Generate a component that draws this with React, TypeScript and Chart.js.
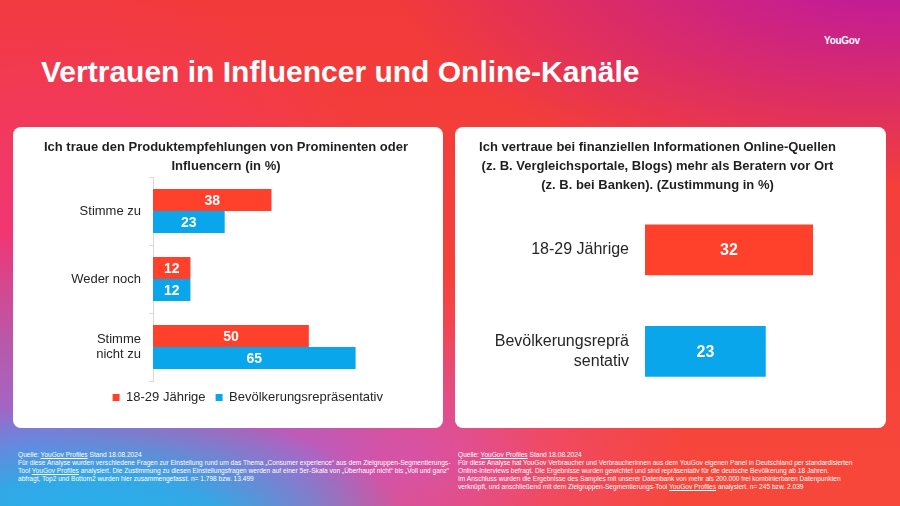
import React, { useEffect, useRef } from 'react';
import { Chart, registerables } from 'chart.js';

Chart.register(...registerables);

const FONT = '"Liberation Sans", Arial, Helvetica, sans-serif';

// ---- data ----
const leftCategories = [['Stimme zu'], ['Weder noch'], ['Stimme', 'nicht zu']];
const seriesNames = ['18-29 Jährige', 'Bevölkerungsrepräsentativ'];
const youngValues = [38, 12, 50];
const populationValues = [23, 12, 65];
const rightCategories = [['18-29 Jährige'], ['Bevölkerungsreprä', 'sentativ']];
const rightValues = [32, 23];
const seriesColors = ['#ff412c', '#0aa6ec'];
const leftAxisMax = 77;
const rightAxisMax = 40;

const pageTitle = 'Vertrauen in Influencer und Online-Kanäle';
const leftTitle = ['Ich traue den Produktempfehlungen von Prominenten oder', 'Influencern (in %)'];
const rightTitle = [
  'Ich vertraue bei finanziellen Informationen Online-Quellen',
  '(z. B. Vergleichsportale, Blogs) mehr als Beratern vor Ort',
  '(z. B. bei Banken). (Zustimmung in %)',
];

const valueLabels = (size: number) => ({
  id: 'valueLabels',
  afterDatasetsDraw(chart: any) {
    const ctx = chart.ctx;
    ctx.save();
    ctx.font = `bold ${size}px ${FONT}`;
    ctx.fillStyle = '#ffffff';
    ctx.textAlign = 'center';
    ctx.textBaseline = 'middle';
    chart.data.datasets.forEach((ds: any, i: number) => {
      const meta = chart.getDatasetMeta(i);
      meta.data.forEach((bar: any, j: number) => {
        const p = bar.getProps(['x', 'y', 'base'], true);
        ctx.fillText(String(ds.data[j]), (p.x + p.base) / 2, p.y + 1);
      });
    });
    ctx.restore();
  },
});

function useChart(ref: React.RefObject<HTMLCanvasElement>, makeConfig: () => any) {
  useEffect(() => {
    if (!ref.current) return;
    const chart = new Chart(ref.current, makeConfig());
    return () => chart.destroy();
  }, []);
}

function LeftChart() {
  const ref = useRef<HTMLCanvasElement>(null);
  useChart(ref, () => ({
    type: 'bar',
    data: {
      labels: leftCategories,
      datasets: [
        { label: seriesNames[0], data: youngValues, backgroundColor: seriesColors[0], borderWidth: 0, categoryPercentage: 0.65, barPercentage: 1 },
        { label: seriesNames[1], data: populationValues, backgroundColor: seriesColors[1], borderWidth: 0, categoryPercentage: 0.65, barPercentage: 1 },
      ],
    },
    options: {
      indexAxis: 'y',
      animation: false,
      responsive: false,
      maintainAspectRatio: false,
      layout: { padding: { left: 0, right: 50, top: 50, bottom: 14 } },
      plugins: {
        title: { display: false },
        tooltip: { enabled: false },
        legend: {
          position: 'bottom',
          align: 'end',
          labels: { boxWidth: 7, boxHeight: 7, padding: 10, color: '#262626', font: { family: FONT, size: 13 } },
        },
      },
      scales: {
        x: { display: false, min: 0, max: leftAxisMax },
        y: {
          grid: { display: true, drawOnChartArea: false, drawTicks: true, tickLength: 4, color: '#d9d9d9', offset: true },
          border: { display: true, color: '#d9d9d9' },
          ticks: { padding: 8, color: '#262626', font: { family: FONT, size: 13, lineHeight: 1.15 } },
          afterFit: (s: any) => { s.width = 140; },
        },
      },
    },
    plugins: [valueLabels(14)],
  }));
  return <canvas ref={ref} width={430} height={301} style={{ position: 'absolute', left: 0, top: 0, width: 430, height: 301 }} />;
}

function RightChart() {
  const ref = useRef<HTMLCanvasElement>(null);
  useChart(ref, () => ({
    type: 'bar',
    data: {
      labels: rightCategories,
      datasets: [
        { label: 'Zustimmung', data: rightValues, backgroundColor: seriesColors, borderWidth: 0, categoryPercentage: 0.5, barPercentage: 1 },
      ],
    },
    options: {
      indexAxis: 'y',
      animation: false,
      responsive: false,
      maintainAspectRatio: false,
      layout: { padding: { left: 0, right: 31, top: 72, bottom: 24 } },
      plugins: {
        title: { display: false },
        tooltip: { enabled: false },
        legend: { display: false },
      },
      scales: {
        x: { display: false, min: 0, max: rightAxisMax },
        y: {
          grid: { display: false, drawTicks: false },
          border: { display: false },
          ticks: { padding: 16, color: '#262626', font: { family: FONT, size: 16, lineHeight: 1.25 } },
          afterFit: (s: any) => { s.width = 190; },
        },
      },
    },
    plugins: [valueLabels(16)],
  }));
  return <canvas ref={ref} width={431} height={301} style={{ position: 'absolute', left: 0, top: 0, width: 431, height: 301 }} />;
}

const cardTitleStyle: React.CSSProperties = {
  position: 'absolute',
  top: 9.5,
  margin: 0,
  font: `bold 13px/19px ${FONT}`,
  color: '#1f1f1f',
  textAlign: 'center',
  whiteSpace: 'nowrap',
};

const footStyle: React.CSSProperties = {
  position: 'absolute',
  top: 451,
  font: `6.6px/8px ${FONT}`,
  color: '#ffffff',
  whiteSpace: 'nowrap',
};

const U = ({ children }: { children: React.ReactNode }) => <span style={{ textDecoration: 'underline' }}>{children}</span>;

export default function App() {
  useEffect(() => {
    document.body.style.margin = '0';
  }, []);
  return (
    <div
      style={{
        position: 'fixed',
        left: 0,
        top: 0,
        width: 900,
        height: 506,
        overflow: 'hidden',
        fontFamily: FONT,
        background: [
          'radial-gradient(55% 45% at 98% -8%, rgba(185,22,170,1) 0%, rgba(185,22,170,0) 100%)',
          'radial-gradient(36% 26% at 10% 106%, rgba(30,180,238,1) 0%, rgba(30,180,238,0.85) 45%, rgba(30,180,238,0) 100%)',
          'radial-gradient(40% 42% at 3% 88%, rgba(148,108,215,1) 0%, rgba(148,108,215,0.6) 50%, rgba(148,108,215,0) 100%)',
          'radial-gradient(28% 34% at 33% 92%, rgba(195,88,195,0.9) 0%, rgba(195,88,195,0) 100%)',
          'radial-gradient(30% 36% at 47% 90%, rgba(232,78,150,0.85) 0%, rgba(232,78,150,0) 100%)',
          'radial-gradient(40% 55% at 5% 50%, rgba(240,52,130,0.9) 0%, rgba(240,52,130,0) 100%)',
          'linear-gradient(180deg, #f23a3a 0%, #f5423a 60%, #f7473a 100%)',
        ].join(', '),
      }}
    >
      <div style={{ position: 'absolute', left: 824, top: 35, font: `bold 10px/12px ${FONT}`, letterSpacing: -0.3, color: '#fff' }}>YouGov</div>
      <div style={{ position: 'absolute', left: 41, top: 55, font: `bold 30px/34px ${FONT}`, color: '#fff', whiteSpace: 'nowrap' }}>{pageTitle}</div>

      <div style={{ position: 'absolute', left: 13, top: 127, width: 430, height: 301, background: '#fff', borderRadius: 8, overflow: 'hidden' }}>
        <LeftChart />
        <div style={{ ...cardTitleStyle, left: 0, width: 426 }}>
          {leftTitle.map((t, i) => <div key={i}>{t}</div>)}
        </div>
      </div>

      <div style={{ position: 'absolute', left: 455, top: 127, width: 431, height: 301, background: '#fff', borderRadius: 8, overflow: 'hidden' }}>
        <RightChart />
        <div style={{ ...cardTitleStyle, left: 0, width: 405 }}>
          {rightTitle.map((t, i) => <div key={i}>{t}</div>)}
        </div>
      </div>

      <div style={{ ...footStyle, left: 18 }}>
        <div>Quelle: <U>YouGov Profiles</U> Stand 18.08.2024</div>
        <div>Für diese Analyse wurden verschiedene Fragen zur Einstellung rund um das Thema „Consumer experience“ aus dem Zielgruppen-Segmentierungs-</div>
        <div>Tool <U>YouGov Profiles</U> analysiert. Die Zustimmung zu diesen Einstellungsfragen werden auf einer 5er-Skala von „Überhaupt nicht“ bis „Voll und ganz“</div>
        <div>abfragt, Top2 und Bottom2 wurden hier zusammengefasst. n= 1.798 bzw. 13.499</div>
      </div>

      <div style={{ ...footStyle, left: 458 }}>
        <div>Quelle: <U>YouGov Profiles</U> Stand 18.08.2024</div>
        <div>Für diese Analyse hat YouGov Verbraucher und Verbraucherinnen aus dem YouGov eigenen Panel in Deutschland per standardisierten</div>
        <div>Online-Interviews befragt. Die Ergebnisse wurden gewichtet und sind repräsentativ für die deutsche Bevölkerung ab 18 Jahren.</div>
        <div>Im Anschluss wurden die Ergebnisse des Samples mit unserer Datenbank von mehr als 200.000 frei kombinierbaren Datenpunkten</div>
        <div>verknüpft, und anschließend mit dem Zielgruppen-Segmentierungs-Tool <U>YouGov Profiles</U> analysiert. n= 245 bzw. 2.039</div>
      </div>
    </div>
  );
}
